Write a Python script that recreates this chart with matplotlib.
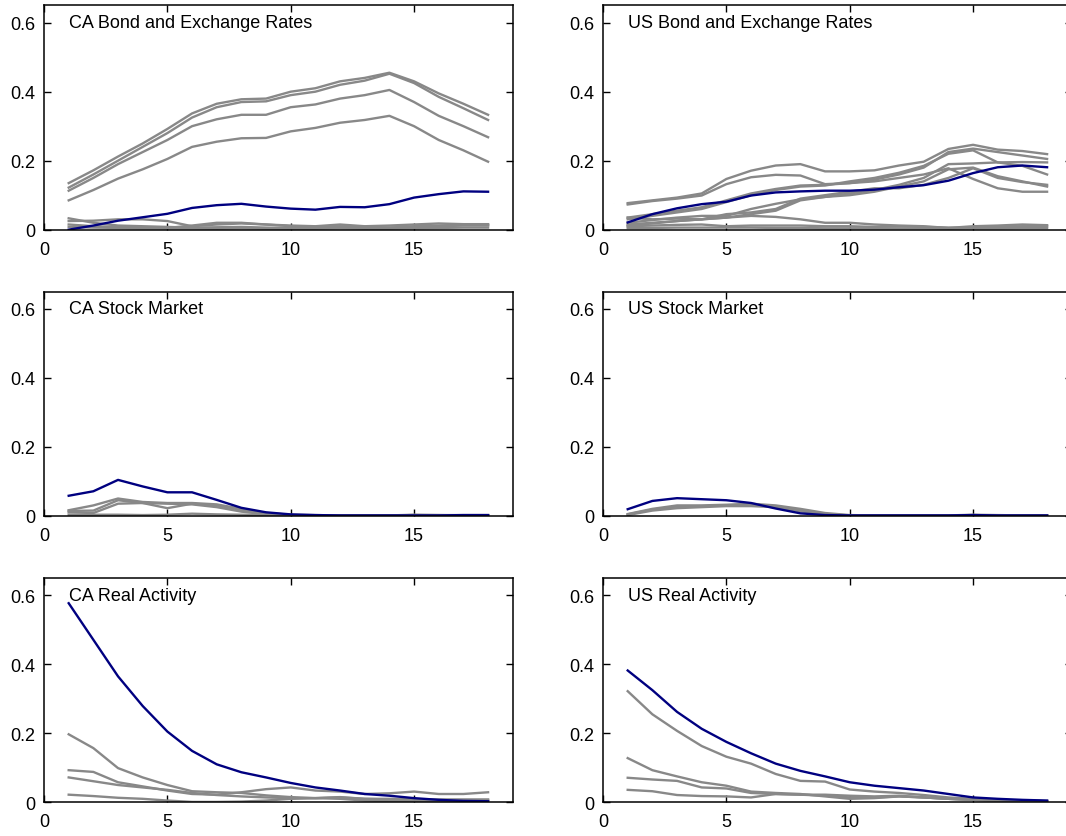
import numpy as np
import matplotlib
matplotlib.use("Agg")
import matplotlib.pyplot as plt

plt.rcParams["font.family"] = ["Liberation Sans", "DejaVu Sans"]

horizon = list(range(1, 19))

# CA Bond and Exchange Rates
ca_bond_blue = [0.000, 0.012, 0.026, 0.036, 0.046, 0.063, 0.071, 0.075, 0.067, 0.061,
                0.058, 0.066, 0.065, 0.074, 0.093, 0.103, 0.111, 0.110]
ca_bond_gray = [
    [0.135, 0.172, 0.212, 0.250, 0.292, 0.337, 0.365, 0.378, 0.380, 0.400,
     0.410, 0.430, 0.440, 0.455, 0.430, 0.395, 0.365, 0.333],
    [0.122, 0.160, 0.200, 0.240, 0.280, 0.325, 0.355, 0.370, 0.372, 0.390,
     0.400, 0.420, 0.432, 0.452, 0.425, 0.385, 0.352, 0.318],
    [0.113, 0.150, 0.190, 0.225, 0.260, 0.300, 0.320, 0.333, 0.333, 0.355,
     0.363, 0.380, 0.390, 0.405, 0.370, 0.330, 0.300, 0.268],
    [0.085, 0.115, 0.148, 0.175, 0.205, 0.240, 0.255, 0.265, 0.266, 0.285,
     0.295, 0.310, 0.318, 0.330, 0.300, 0.260, 0.230, 0.197],
    [0.033, 0.020, 0.012, 0.010, 0.008, 0.006, 0.007, 0.008, 0.006, 0.005,
     0.005, 0.006, 0.005, 0.006, 0.008, 0.010, 0.012, 0.012],
    [0.025, 0.026, 0.030, 0.030, 0.025, 0.010, 0.015, 0.018, 0.015, 0.012,
     0.010, 0.015, 0.010, 0.012, 0.015, 0.018, 0.016, 0.016],
    [0.015, 0.010, 0.008, 0.006, 0.005, 0.012, 0.020, 0.020, 0.015, 0.010,
     0.008, 0.010, 0.008, 0.006, 0.010, 0.012, 0.014, 0.014],
    [0.008, 0.006, 0.005, 0.004, 0.004, 0.004, 0.003, 0.004, 0.003, 0.003,
     0.003, 0.004, 0.003, 0.003, 0.004, 0.005, 0.006, 0.006],
]

# US Bond and Exchange Rates
us_bond_blue = [0.021, 0.045, 0.062, 0.074, 0.081, 0.099, 0.108, 0.111, 0.113, 0.113,
                0.116, 0.123, 0.129, 0.142, 0.164, 0.181, 0.186, 0.181]
us_bond_gray = [
    [0.077, 0.085, 0.093, 0.105, 0.147, 0.171, 0.186, 0.190, 0.169, 0.169,
     0.172, 0.186, 0.197, 0.234, 0.246, 0.232, 0.228, 0.219],
    [0.073, 0.083, 0.090, 0.099, 0.132, 0.152, 0.159, 0.157, 0.132, 0.135,
     0.140, 0.150, 0.160, 0.178, 0.147, 0.120, 0.110, 0.110],
    [0.035, 0.045, 0.055, 0.065, 0.085, 0.105, 0.118, 0.128, 0.130, 0.135,
     0.145, 0.160, 0.180, 0.225, 0.235, 0.225, 0.215, 0.205],
    [0.030, 0.040, 0.050, 0.060, 0.080, 0.100, 0.115, 0.125, 0.128, 0.140,
     0.150, 0.165, 0.185, 0.220, 0.230, 0.195, 0.185, 0.160],
    [0.020, 0.028, 0.035, 0.040, 0.040, 0.060, 0.075, 0.088, 0.095, 0.105,
     0.115, 0.130, 0.150, 0.190, 0.192, 0.195, 0.196, 0.195],
    [0.015, 0.020, 0.025, 0.030, 0.035, 0.045, 0.055, 0.085, 0.095, 0.100,
     0.110, 0.125, 0.140, 0.175, 0.180, 0.155, 0.140, 0.125],
    [0.012, 0.018, 0.025, 0.030, 0.045, 0.050, 0.060, 0.090, 0.100, 0.110,
     0.120, 0.120, 0.130, 0.150, 0.178, 0.150, 0.138, 0.130],
    [0.035, 0.030, 0.032, 0.030, 0.035, 0.040, 0.037, 0.030, 0.020, 0.020,
     0.015, 0.012, 0.010, 0.005, 0.010, 0.012, 0.015, 0.013],
    [0.010, 0.012, 0.014, 0.015, 0.010, 0.012, 0.012, 0.012, 0.010, 0.010,
     0.008, 0.010, 0.008, 0.006, 0.006, 0.008, 0.010, 0.010],
    [0.005, 0.005, 0.006, 0.006, 0.006, 0.006, 0.005, 0.005, 0.004, 0.004,
     0.004, 0.004, 0.004, 0.003, 0.004, 0.004, 0.005, 0.005],
]

# CA Stock Market
ca_stock_blue = [0.058, 0.071, 0.104, 0.085, 0.068, 0.068, 0.046, 0.023, 0.010, 0.004,
                 0.002, 0.001, 0.001, 0.001, 0.001, 0.001, 0.002, 0.002]
ca_stock_gray = [
    [0.016, 0.030, 0.050, 0.040, 0.037, 0.037, 0.033, 0.020, 0.008, 0.003,
     0.002, 0.001, 0.001, 0.001, 0.002, 0.002, 0.002, 0.002],
    [0.014, 0.015, 0.045, 0.037, 0.022, 0.035, 0.030, 0.017, 0.006, 0.002,
     0.001, 0.001, 0.001, 0.001, 0.002, 0.001, 0.001, 0.001],
    [0.010, 0.008, 0.035, 0.037, 0.035, 0.033, 0.025, 0.012, 0.004, 0.001,
     0.001, 0.001, 0.001, 0.001, 0.001, 0.001, 0.001, 0.001],
    [0.003, 0.003, 0.003, 0.002, 0.003, 0.006, 0.004, 0.003, 0.002, 0.001,
     0.001, 0.001, 0.001, 0.001, 0.003, 0.002, 0.001, 0.001],
]

# US Stock Market
us_stock_blue = [0.019, 0.043, 0.051, 0.048, 0.045, 0.037, 0.021, 0.007, 0.002, 0.001,
                 0.001, 0.001, 0.001, 0.001, 0.002, 0.001, 0.001, 0.001]
us_stock_gray = [
    [0.005, 0.020, 0.030, 0.030, 0.032, 0.035, 0.030, 0.020, 0.008, 0.002,
     0.001, 0.001, 0.001, 0.001, 0.003, 0.002, 0.001, 0.001],
    [0.004, 0.018, 0.027, 0.028, 0.030, 0.030, 0.027, 0.015, 0.005, 0.001,
     0.001, 0.001, 0.001, 0.001, 0.002, 0.001, 0.001, 0.001],
    [0.002, 0.015, 0.022, 0.025, 0.028, 0.028, 0.025, 0.013, 0.004, 0.001,
     0.001, 0.001, 0.001, 0.001, 0.001, 0.001, 0.001, 0.001],
]

# CA Real Activity
ca_real_blue = [0.577, 0.471, 0.365, 0.279, 0.205, 0.149, 0.110, 0.087, 0.072, 0.056,
                0.043, 0.034, 0.024, 0.019, 0.012, 0.007, 0.004, 0.003]
ca_real_gray = [
    [0.197, 0.157, 0.099, 0.072, 0.050, 0.032, 0.029, 0.027, 0.020, 0.015,
     0.012, 0.015, 0.010, 0.010, 0.009, 0.008, 0.008, 0.008],
    [0.093, 0.088, 0.058, 0.046, 0.034, 0.024, 0.022, 0.029, 0.038, 0.043,
     0.034, 0.031, 0.024, 0.026, 0.031, 0.024, 0.024, 0.029],
    [0.072, 0.061, 0.050, 0.043, 0.036, 0.027, 0.021, 0.017, 0.014, 0.012,
     0.012, 0.014, 0.010, 0.008, 0.008, 0.007, 0.007, 0.007],
    [0.022, 0.018, 0.013, 0.010, 0.005, 0.001, 0.001, 0.002, 0.005, 0.010,
     0.012, 0.010, 0.005, 0.003, 0.003, 0.003, 0.003, 0.003],
]

# US Real Activity
us_real_blue = [0.382, 0.325, 0.262, 0.213, 0.175, 0.142, 0.112, 0.091, 0.075, 0.058,
                0.048, 0.041, 0.034, 0.024, 0.014, 0.010, 0.007, 0.005]
us_real_gray = [
    [0.322, 0.255, 0.207, 0.163, 0.132, 0.112, 0.082, 0.062, 0.060, 0.037,
     0.031, 0.027, 0.021, 0.014, 0.010, 0.007, 0.005, 0.004],
    [0.128, 0.093, 0.075, 0.058, 0.048, 0.031, 0.027, 0.024, 0.017, 0.010,
     0.012, 0.017, 0.014, 0.010, 0.007, 0.005, 0.004, 0.003],
    [0.071, 0.066, 0.062, 0.043, 0.040, 0.027, 0.024, 0.022, 0.022, 0.019,
     0.017, 0.019, 0.014, 0.010, 0.007, 0.005, 0.004, 0.003],
    [0.036, 0.032, 0.021, 0.018, 0.017, 0.014, 0.024, 0.022, 0.019, 0.014,
     0.014, 0.017, 0.014, 0.010, 0.007, 0.005, 0.004, 0.003],
]

panels = [
    ("CA Bond and Exchange Rates", ca_bond_gray, ca_bond_blue),
    ("US Bond and Exchange Rates", us_bond_gray, us_bond_blue),
    ("CA Stock Market", ca_stock_gray, ca_stock_blue),
    ("US Stock Market", us_stock_gray, us_stock_blue),
    ("CA Real Activity", ca_real_gray, ca_real_blue),
    ("US Real Activity", us_real_gray, us_real_blue),
]

fig = plt.figure(figsize=(10.66, 8.37), dpi=100)

col_left = [0.0413, 0.5657]
row_bottom = [0.7244, 0.3826, 0.0403]
ax_w, ax_h = 0.4397, 0.2679

for i, (title, grays, blue) in enumerate(panels):
    r, c = divmod(i, 2)
    ax = fig.add_axes([col_left[c], row_bottom[r], ax_w, ax_h])
    for g in grays:
        ax.plot(horizon, g, color="#888888", lw=1.7, solid_joinstyle="round")
    ax.plot(horizon, blue, color="#000080", lw=1.7)
    ax.text(1, 0.6, title, fontsize=13, va="center", ha="left")
    ax.set_xlim(0, 19)
    ax.set_ylim(0, 0.65)
    ax.set_xticks([0, 5, 10, 15])
    ax.set_yticks([0, 0.2, 0.4, 0.6])
    ax.set_yticklabels(["0", "0.2", "0.4", "0.6"])
    ax.tick_params(direction="in", top=True, right=True, length=5, width=1,
                   labelsize=13)
    ax.tick_params(axis="x", pad=8)
    ax.tick_params(axis="y", pad=6)
    for s in ax.spines.values():
        s.set_linewidth(1.1)

fig.savefig("out.png", dpi=100)
